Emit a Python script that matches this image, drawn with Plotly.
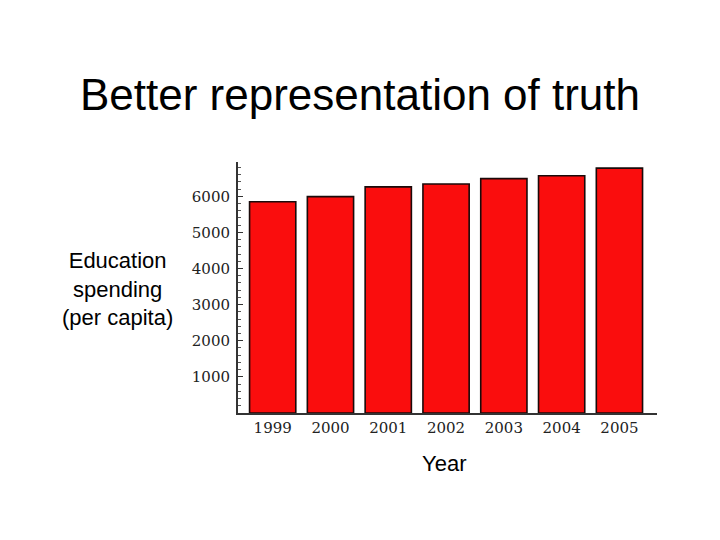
import plotly.graph_objects as go

# Data
years = ["1999", "2000", "2001", "2002", "2003", "2004", "2005"]
spending = [5850, 5990, 6260, 6340, 6490, 6570, 6780]
y_ticks = [1000, 2000, 3000, 4000, 5000, 6000]

# page body has an 8px margin, so shift everything up/left by that much
off = 8

fig = go.Figure()

fig.add_trace(
    go.Bar(
        x=list(range(len(years))),
        y=spending,
        marker=dict(color="#fa0d0d", line=dict(color="#1a0a0a", width=1.6)),
        width=0.8,
        showlegend=False,
    )
)

fig.update_layout(
    width=720,
    height=540,
    margin=dict(l=238 - off, r=63 + off, t=162 - off, b=127 + off),
    plot_bgcolor="white",
    paper_bgcolor="white",
    title=dict(
        text="Better representation of truth",
        font=dict(family="Liberation Sans, Arial, sans-serif", size=44, color="black"),
        x=(360 - off) / 720,
        xanchor="center",
        y=1 - (95 - off) / 540,
        yanchor="middle",
    ),
)

fig.update_xaxes(
    range=[-0.6, 6.65],
    tickmode="array",
    tickvals=list(range(len(years))),
    ticktext=years,
    tickfont=dict(family="DejaVu Serif, serif", size=15, color="#222"),
    showline=True,
    linecolor="#333",
    linewidth=1.5,
    ticks="",
    showgrid=False,
    zeroline=False,
)

fig.update_yaxes(
    range=[0, 6950],
    tickmode="array",
    tickvals=y_ticks,
    ticktext=[str(v) for v in y_ticks],
    tickfont=dict(family="DejaVu Serif, serif", size=15, color="#222"),
    showline=True,
    linecolor="#333",
    linewidth=2,
    ticks="inside",
    ticklen=5,
    tickcolor="#333",
    minor=dict(dtick=200, ticks="inside", ticklen=3, tickcolor="#555", showgrid=False),
    ticklabelstandoff=3,
    showgrid=False,
    zeroline=False,
)

# Horizontal y-axis label and x-axis label as annotations
fig.add_annotation(
    text="Education<br>spending<br>(per capita)",
    xref="paper", yref="paper",
    x=(117 - 238) / 419, y=(413 - 289) / 251,
    xanchor="center", yanchor="middle",
    showarrow=False, align="center",
    font=dict(family="Liberation Sans, Arial, sans-serif", size=22, color="black"),
)
fig.add_annotation(
    text="Year",
    xref="paper", yref="paper",
    x=(444 - 238) / 419, y=(413 - 463) / 251,
    xanchor="center", yanchor="middle",
    showarrow=False,
    font=dict(family="Liberation Sans, Arial, sans-serif", size=22, color="black"),
)

fig.write_html("out.html")
